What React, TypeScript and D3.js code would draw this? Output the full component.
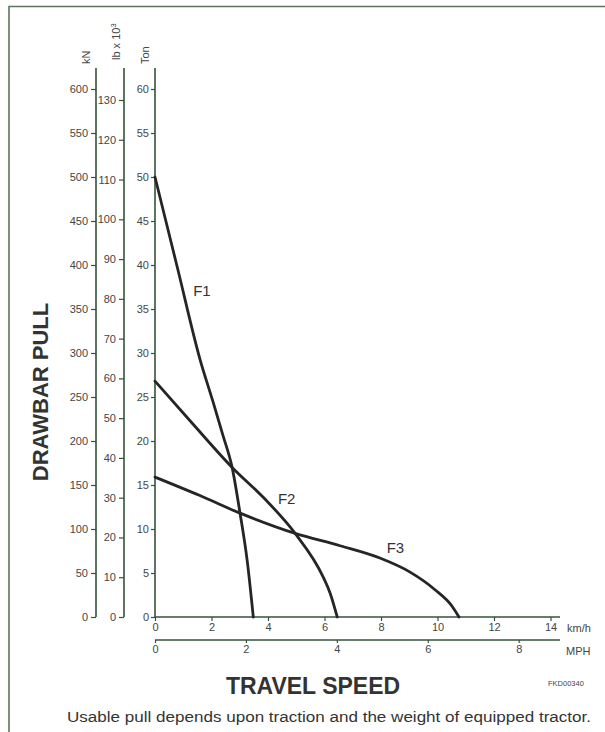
import * as React from "react";
import * as d3 from "d3";
import { select, axisBottom, axisLeft } from "d3";

// curve data: travel speed (km/h) vs drawbar pull (Ton)
const speedF1 = [0, 0.8, 1.6, 2.05, 2.4, 2.73, 3.01, 3.26, 3.48];
const pullF1 = [50, 39.6, 29.2, 24.5, 20.7, 17.0, 11.8, 6.5, 0];

const speedF2 = [0, 1.35, 2.73, 3.83, 4.96, 5.96, 6.2, 6.45];
const pullF2 = [26.8, 21.9, 17.0, 13.6, 9.5, 4.5, 2.7, 0];

const speedF3 = [0, 1.59, 3.01, 4.96, 6.55, 7.96, 9.03, 9.91, 10.51, 10.76];
const pullF3 = [15.9, 13.8, 11.8, 9.5, 8.1, 6.7, 5.1, 3.1, 1.25, 0];

const gearNames = ["F1", "F2", "F3"];
// label anchor in data units (km/h, Ton)
const gearLabelSpeed = [1.35, 4.35, 8.2];
const gearLabelPull = [36.5, 12.8, 7.3];

const kmhTicks = [0, 2, 4, 6, 8, 10, 12, 14];
const mphTicks = [0, 2, 4, 6, 8];
const kNTicks = d3.range(0, 601, 50);
const lbTicks = d3.range(0, 131, 10);
const tonTicks = d3.range(0, 61, 5);

const FONT = "'Liberation Sans', Arial, Helvetica, sans-serif";
const AXIS = "#35523d";
const TEXT = "#454545";
const CURVE = "#252525";

const W = 605;
const H = 732;
const top = 68;
const bottom = 617;

const x = d3.scaleLinear().domain([0, 14]).range([155, 550.5]);
const xMph = d3.scaleLinear().domain([0, 14 / 1.609344]).range([155, 550.5]);
const yTon = d3.scaleLinear().domain([0, 60]).range([bottom, 89]);
const yKN = d3.scaleLinear().domain([0, 600]).range([bottom, 89]);
const yLb = d3.scaleLinear().domain([0, 130]).range([bottom, 100]);

function styleAxis(node: SVGGElement | null, axis: any) {
  if (!node) return;
  const g = select(node);
  g.call(axis);
  g.select(".domain").remove();
  g.selectAll(".tick line").attr("stroke", AXIS).attr("stroke-width", 1.2);
  g.selectAll(".tick text")
    .attr("fill", TEXT)
    .style("font-family", FONT)
    .style("font-size", "11px");
}

export default function App() {
  const line = d3
    .line<[number, number]>()
    .x(d => x(d[0]))
    .y(d => yTon(d[1]))
    .curve(d3.curveMonotoneX);

  const curves = [
    speedF1.map((s, i) => [s, pullF1[i]] as [number, number]),
    speedF2.map((s, i) => [s, pullF2[i]] as [number, number]),
    speedF3.map((s, i) => [s, pullF3[i]] as [number, number])
  ];

  return (
    <svg
      width={W}
      height={H}
      style={{ position: "absolute", left: 0, top: 0, display: "block", background: "#fff" }}
    >
      {/* frame */}
      <path d={`M9,${H} V6.5 H${W}`} fill="none" stroke="#5d7463" strokeWidth={1.6} />

      {/* vertical axes */}
      <g
        transform="translate(96,0)"
        ref={node => styleAxis(node, axisLeft(yKN).tickValues(kNTicks).tickSize(5).tickPadding(3))}
      />
      <line x1={96} x2={96} y1={top} y2={bottom} stroke={AXIS} strokeWidth={1.6} />

      <g
        transform="translate(124,0)"
        ref={node => styleAxis(node, axisLeft(yLb).tickValues(lbTicks).tickSize(5).tickPadding(3))}
      />
      <line x1={124} x2={124} y1={top} y2={bottom} stroke={AXIS} strokeWidth={1.6} />

      <g
        transform="translate(155,0)"
        ref={node => styleAxis(node, axisLeft(yTon).tickValues(tonTicks).tickSize(4).tickPadding(2))}
      />
      <line x1={155} x2={155} y1={top} y2={bottom} stroke={AXIS} strokeWidth={1.6} />

      {/* unit labels */}
      <text transform="translate(90,64) rotate(-90)" fontFamily={FONT} fontSize={11} fill={TEXT}>
        kN
      </text>
      <text transform="translate(120,60) rotate(-90)" fontFamily={FONT} fontSize={11} fill={TEXT}>
        lb x 10
        <tspan fontSize={7.5} dy={-4}>
          3
        </tspan>
      </text>
      <text transform="translate(149,64) rotate(-90)" fontFamily={FONT} fontSize={11} fill={TEXT}>
        Ton
      </text>

      {/* horizontal axes */}
      <g
        transform={`translate(0,${bottom})`}
        ref={node => styleAxis(node, axisBottom(x).tickValues(kmhTicks).tickSize(4).tickPadding(2))}
      />
      <line x1={155} x2={560} y1={bottom} y2={bottom} stroke={AXIS} strokeWidth={1.6} />
      <text x={567} y={632} fontFamily={FONT} fontSize={11} fill={TEXT}>
        km/h
      </text>

      <g
        transform="translate(0,640)"
        ref={node => styleAxis(node, axisBottom(xMph).tickValues(mphTicks).tickSize(3).tickPadding(2))}
      />
      <line x1={155} x2={560} y1={640} y2={640} stroke={AXIS} strokeWidth={1.6} />
      <text x={566} y={655} fontFamily={FONT} fontSize={11} fill={TEXT}>
        MPH
      </text>

      {/* curves */}
      {curves.map((c, i) => (
        <path
          key={gearNames[i]}
          d={line(c) as string}
          fill="none"
          stroke={CURVE}
          strokeWidth={2.8}
          strokeLinecap="round"
        />
      ))}
      {gearNames.map((n, i) => (
        <text
          key={n}
          x={x(gearLabelSpeed[i])}
          y={yTon(gearLabelPull[i])}
          fontFamily={FONT}
          fontSize={15}
          fill="#333"
        >
          {n}
        </text>
      ))}

      {/* titles */}
      <text
        transform="translate(48,392) rotate(-90)"
        textAnchor="middle"
        fontFamily={FONT}
        fontWeight="bold"
        fontSize={22}
        fill="#333"
      >
        DRAWBAR PULL
      </text>
      <text
        x={313}
        y={694}
        textAnchor="middle"
        fontFamily={FONT}
        fontWeight="bold"
        fontSize={23}
        fill="#333"
      >
        TRAVEL SPEED
      </text>
      <text x={548} y={686} fontFamily={FONT} fontSize={7.5} fill={TEXT}>
        FKD00340
      </text>
      <text
        x={67}
        y={722}
        fontFamily={FONT}
        fontSize={15.5}
        fill="#333"
        textLength={524}
        lengthAdjust="spacingAndGlyphs"
      >
        Usable pull depends upon traction and the weight of equipped tractor.
      </text>
    </svg>
  );
}
